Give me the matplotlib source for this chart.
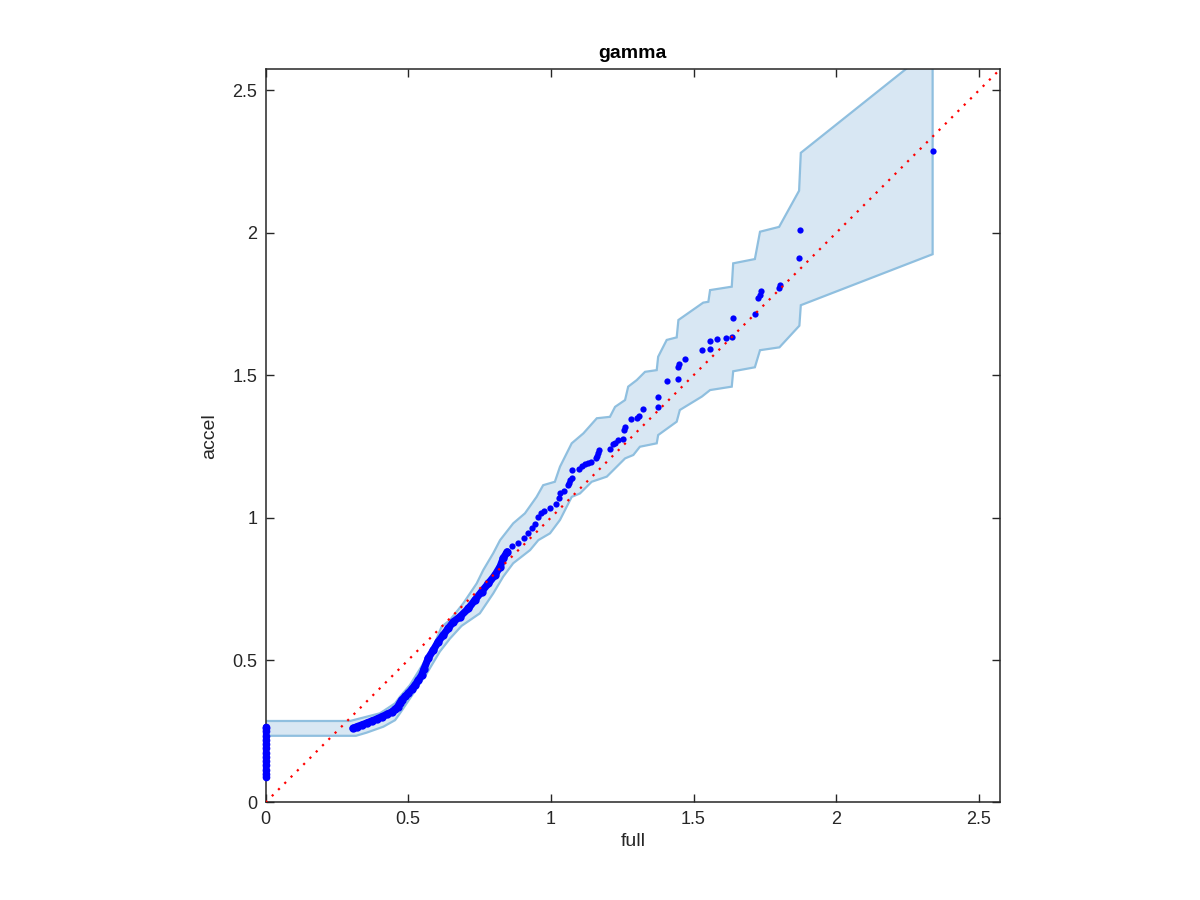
import numpy as np
import matplotlib.pyplot as plt

plt.rcParams['font.family'] = ['Liberation Sans', 'DejaVu Sans']

# quantiles stacked at full = 0
zero_y = [0.088, 0.100, 0.115, 0.130, 0.145, 0.160, 0.175, 0.190,
          0.205, 0.220, 0.235, 0.250, 0.262, 0.266]

# dense part of the curve
dense_x = [0.307, 0.320, 0.337, 0.355, 0.372, 0.390, 0.407, 0.425, 0.442, 0.455,
           0.463, 0.470, 0.477, 0.490, 0.500, 0.512, 0.524, 0.536, 0.547, 0.556,
           0.570, 0.588, 0.605, 0.623, 0.640, 0.658, 0.681, 0.711, 0.734, 0.757,
           0.781, 0.804, 0.822, 0.833, 0.847]
dense_y = [0.260, 0.266, 0.272, 0.279, 0.286, 0.293, 0.301, 0.309, 0.318, 0.328,
           0.336, 0.348, 0.360, 0.372, 0.383, 0.397, 0.412, 0.430, 0.447, 0.470,
           0.506, 0.535, 0.564, 0.588, 0.611, 0.634, 0.652, 0.681, 0.711, 0.740,
           0.769, 0.798, 0.828, 0.857, 0.880]

# sparse upper tail
tail_x = [0.863, 0.886, 0.906, 0.919, 0.933, 0.944, 0.956, 0.965, 0.977, 0.997,
          1.019, 1.030, 1.033, 1.046, 1.059, 1.063, 1.068, 1.073, 1.075, 1.097,
          1.109, 1.118, 1.130, 1.139, 1.158, 1.160, 1.164, 1.170, 1.207, 1.217,
          1.225, 1.235, 1.252, 1.257, 1.261, 1.281, 1.301, 1.308, 1.324, 1.374,
          1.377, 1.407, 1.444, 1.445, 1.449, 1.469, 1.530, 1.557, 1.557, 1.582,
          1.614, 1.634, 1.638, 1.715, 1.727, 1.732, 1.736, 1.800, 1.804, 1.871,
          1.874, 2.338]
tail_y = [0.900, 0.910, 0.927, 0.945, 0.962, 0.976, 1.002, 1.015, 1.022, 1.033,
          1.047, 1.070, 1.086, 1.094, 1.113, 1.123, 1.131, 1.138, 1.166, 1.170,
          1.181, 1.187, 1.191, 1.194, 1.210, 1.216, 1.228, 1.238, 1.242, 1.258,
          1.263, 1.273, 1.275, 1.307, 1.318, 1.345, 1.350, 1.358, 1.380, 1.387,
          1.425, 1.479, 1.487, 1.529, 1.540, 1.556, 1.590, 1.593, 1.620, 1.627,
          1.632, 1.634, 1.702, 1.716, 1.770, 1.783, 1.797, 1.806, 1.816, 1.913,
          2.011, 2.286]

# confidence band
upper_x = [0.000, 0.296, 0.331, 0.401, 0.454, 0.471, 0.506, 0.553, 0.588, 0.617,
           0.646, 0.693, 0.740, 0.763, 0.798, 0.822, 0.868, 0.909, 0.950, 0.973,
           1.014, 1.032, 1.073, 1.114, 1.161, 1.207, 1.225, 1.260, 1.271, 1.301,
           1.330, 1.371, 1.376, 1.406, 1.441, 1.447, 1.534, 1.552, 1.558, 1.634,
           1.639, 1.715, 1.733, 1.800, 1.870, 1.876, 2.338]
upper_y = [0.286, 0.286, 0.295, 0.313, 0.348, 0.371, 0.412, 0.488, 0.547, 0.617,
           0.640, 0.699, 0.769, 0.816, 0.875, 0.921, 0.980, 1.015, 1.073, 1.114,
           1.126, 1.179, 1.261, 1.296, 1.349, 1.354, 1.389, 1.413, 1.460, 1.483,
           1.512, 1.518, 1.565, 1.624, 1.633, 1.694, 1.755, 1.758, 1.799, 1.811,
           1.893, 1.908, 2.004, 2.021, 2.148, 2.281, 2.650]
lower_x = [0.000, 0.317, 0.354, 0.413, 0.454, 0.471, 0.518, 0.565, 0.611, 0.646,
           0.687, 0.751, 0.798, 0.833, 0.868, 0.927, 0.956, 0.997, 1.032, 1.073,
           1.102, 1.143, 1.196, 1.231, 1.260, 1.289, 1.312, 1.371, 1.376, 1.441,
           1.452, 1.529, 1.558, 1.634, 1.639, 1.715, 1.733, 1.801, 1.871, 1.876,
           2.338]
lower_y = [0.234, 0.234, 0.245, 0.266, 0.289, 0.313, 0.383, 0.453, 0.530, 0.575,
           0.620, 0.664, 0.734, 0.793, 0.840, 0.886, 0.921, 0.945, 0.992, 1.073,
           1.085, 1.126, 1.144, 1.179, 1.208, 1.220, 1.249, 1.261, 1.290, 1.337,
           1.378, 1.425, 1.448, 1.460, 1.514, 1.528, 1.588, 1.598, 1.674, 1.746,
           1.925]

lim = 2.574
ticks = [0, 0.5, 1, 1.5, 2, 2.5]
tick_labels = ['0', '0.5', '1', '1.5', '2', '2.5']

fig = plt.figure(figsize=(12, 9), dpi=100)
ax = fig.add_axes([0.2213, 0.1084, 0.612, 0.8145])

band_x = np.r_[upper_x, lower_x[::-1]]
band_y = np.r_[upper_y, lower_y[::-1]]
ax.fill(band_x, band_y, fc='#d8e7f3', ec='#8fbfdf', lw=1.6, zorder=1)

blue = '#0000ff'
ax.plot(np.zeros(len(zero_y)), zero_y, color=blue, lw=4.5, marker='o', ms=4.5,
        solid_capstyle='round', zorder=3, clip_on=False)
ax.plot(dense_x, dense_y, color=blue, lw=5.2, marker='o', ms=5,
        solid_capstyle='round', zorder=3)
ax.plot(tail_x, tail_y, ls='none', color=blue, marker='o', ms=4.5, mew=0, zorder=3)

ax.plot([0, lim], [0, lim], color='red', lw=1.6, dashes=(1, 3), zorder=4)

ax.set_xlim(0, lim)
ax.set_ylim(0, lim)
ax.set_xticks(ticks, tick_labels)
ax.set_yticks(ticks, tick_labels)
ax.tick_params(direction='in', top=True, right=True, length=6, width=1,
               color='#262626', labelsize=13, labelcolor='#262626', pad=6)
for s in ax.spines.values():
    s.set_color('#262626')
    s.set_linewidth(1.1)

ax.set_xlabel('full', fontsize=14, color='#262626', labelpad=4)
ax.set_ylabel('accel', fontsize=14, color='#262626', labelpad=10)
ax.set_title('gamma', fontsize=14, fontweight='bold', pad=8)

fig.savefig('out.png', dpi=100)
